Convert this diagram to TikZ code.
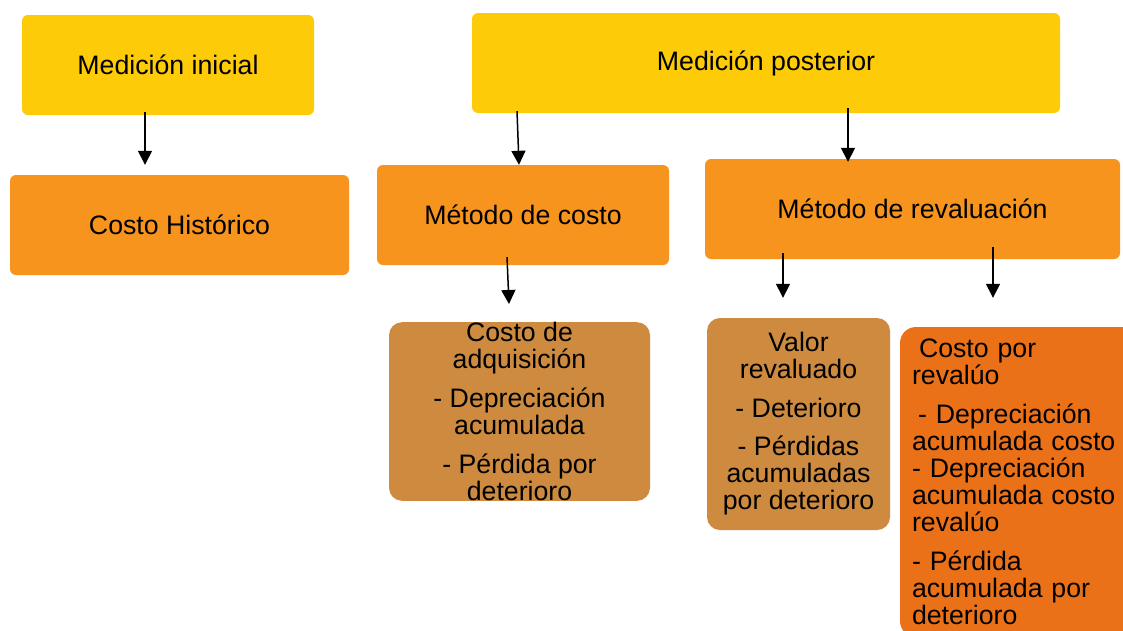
\documentclass[tikz,border=0pt]{standalone}
\usepackage{fontspec}
\setmainfont{Liberation Sans}
\usetikzlibrary{arrows.meta}
\definecolor{yel}{HTML}{FECB08}
\definecolor{ora}{HTML}{F7941E}
\definecolor{brn}{HTML}{CE8B3F}
\definecolor{dor}{HTML}{EB7119}
\begin{document}
\begin{tikzpicture}[x=1pt,y=-1pt,
  box/.style={inner sep=0pt, draw=none, font=\fontsize{26.7}{27}\selectfont},
  ybox/.style={box, fill=yel, rounded corners=6pt},
  obox/.style={box, fill=ora, rounded corners=6pt},
  bbox/.style={box, fill=brn, rounded corners=13pt, align=center},
  dbox/.style={box, fill=dor, rounded corners=16pt, align=left, inner xsep=12pt, text width=218pt},
  arr/.style={line width=1.5pt, -{Triangle[width=14pt,length=14pt]}}]
\useasboundingbox (0,0) rectangle (1123,630);
\fill[white] (0,0) rectangle (1123,630);
\node[ybox, minimum width=292pt, minimum height=100pt] (mi) at (168,65) {Medición inicial};
\node[ybox, minimum width=588pt, minimum height=100pt] (mp) at (766,63) {Medición posterior};
\node[obox, minimum width=339pt, minimum height=100pt] (ch) at (179.5,225) {Costo Histórico};
\node[obox, minimum width=292pt, minimum height=100pt] (mc) at (523,215) {Método de costo};
\node[obox, minimum width=415pt, minimum height=100pt] (mr) at (912.5,209) {Método de revaluación};
\node[bbox, minimum width=261pt, minimum height=177pt] (ca) at (519.5,411.5)
  {Costo de\\adquisición\\[12pt] - Depreciación\\acumulada\\[12pt] - Pérdida por\\deterioro};
\node[bbox, minimum width=183pt, minimum height=212pt] (vr) at (798.5,424)
  {Valor\\revaluado\\[12pt] - Deterioro\\[11pt] - Pérdidas\\acumuladas\\por deterioro};
\node[dbox, minimum height=310pt] (cr) at (1021,482)
  {\hspace*{7pt}Costo por\\revalúo\\[12pt]\hspace*{6pt}- Depreciación\\acumulada costo\\- Depreciación\\acumulada costo\\revalúo\\[12pt]- Pérdida\\acumulada por\\deterioro};
\draw[arr] ([xshift=-23pt,yshift=3pt]mi.south) -- ([xshift=-34.5pt,yshift=10pt]ch.north);
\draw[arr] ([xshift=-249pt,yshift=2pt]mp.south) -- ([xshift=-4pt]mc.north);
\draw[arr] ([xshift=82pt,yshift=5pt]mp.south) -- ([xshift=-64.5pt,yshift=-3pt]mr.north);
\draw[arr] ([xshift=-16pt,yshift=8pt]mc.south) -- ([xshift=-10.5pt,yshift=18pt]ca.north);
\draw[arr] ([xshift=-129.5pt,yshift=6pt]mr.south) -- ([xshift=-15.5pt,yshift=20pt]vr.north);
\draw[arr] ([xshift=80.5pt,yshift=12pt]mr.south) -- ([xshift=-28pt,yshift=29pt]cr.north);
\end{tikzpicture}
\end{document}
